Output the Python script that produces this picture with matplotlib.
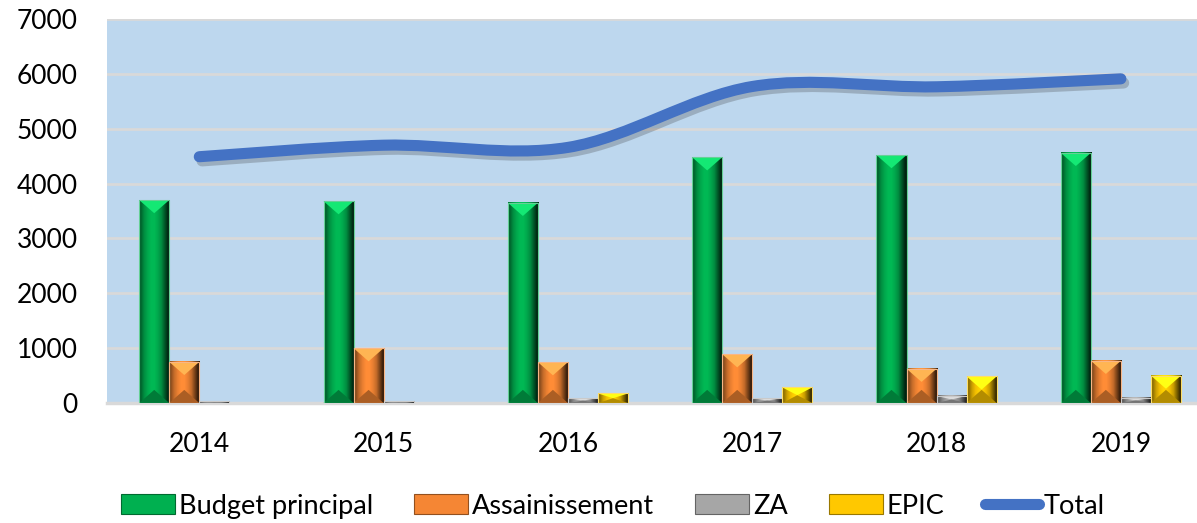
import matplotlib.pyplot as plt
import numpy as np
from matplotlib.path import Path
from matplotlib.patches import PathPatch, Polygon, Patch
from matplotlib.lines import Line2D
import matplotlib.patheffects as pe
from matplotlib.colors import to_rgb

plt.rcParams['font.family'] = ['Lato', 'DejaVu Sans']
plt.rcParams['font.size'] = 19

# data
years = ['2014', '2015', '2016', '2017', '2018', '2019']
budget = [3700, 3680, 3650, 4480, 4520, 4560]
assain = [750, 1000, 745, 890, 625, 770]
za = [30, 30, 90, 90, 130, 95]
epic = [0, 0, 175, 285, 485, 500]
total = [4490, 4700, 4660, 5770, 5765, 5910]

series = [('Budget principal', budget, '#00B050'),
          ('Assainissement', assain, '#F58634'),
          ('ZA', za, '#A6A6A6'),
          ('EPIC', epic, '#FFC800')]

bg = '#BDD7EE'
grid_c = '#D9D9D9'
line_c = '#4472C4'

fig = plt.figure(figsize=(11.97, 5.23), dpi=100)
ax = fig.add_axes([0.0895, 0.2294, 0.9105, 0.7342])
ax.set_facecolor(bg)

x = np.arange(len(years))
w = 0.163
# horizontal shading profile (left -> right) for the bevelled bars
profile = np.array([0.55, 0.8, 0.95, 1.05, 1.05, 0.95, 0.8, 0.5, 0.2])

def lighten(c, f):
    c = np.array(to_rgb(c))
    return tuple(c + (1 - c) * f)

def darken(c, f):
    return tuple(np.array(to_rgb(c)) * f)

def brighten(c, f):
    # brighter but still saturated
    return tuple(np.clip(np.array(to_rgb(c)) * f + 0.08, 0, 1))

handles = []
for k, (name, vals, col) in enumerate(series):
    bars = ax.bar(x + (k - 1.5) * w, vals, w, color=col, zorder=2)
    base = np.array(to_rgb(col))
    grad = np.clip(base[None, :] * profile[:, None], 0, 1)[None, :, :]
    for r in bars:
        h = r.get_height()
        if h <= 0:
            continue
        x0 = r.get_x()
        x1 = x0 + r.get_width()
        xc = (x0 + x1) / 2
        ax.imshow(grad, extent=(x0, x1, 0, h), aspect='auto',
                  interpolation='bilinear', zorder=3)
        d = min(240, h / 2)
        ax.add_patch(Polygon([(x0, h), (x1, h), (xc, h - d)], closed=True,
                             facecolor=brighten(col, 1.2), edgecolor='none', zorder=4))
        ax.add_patch(Polygon([(x0, 0), (x1, 0), (xc, d)], closed=True,
                             facecolor=darken(col, 0.7), edgecolor='none', zorder=4))
        ax.add_patch(Polygon([(x0, 0), (x1, 0), (x1, h), (x0, h)], closed=True,
                             facecolor='none', edgecolor=lighten(col, 0.4),
                             lw=0.8, zorder=5))
    handles.append(Patch(facecolor=col, edgecolor=darken(col, 0.6), lw=0.8, label=name))

# smoothed total line (cubic bezier through the data points)
pts = np.column_stack([x, total]).astype(float)
ext = np.vstack([pts[0], pts, pts[-1]])
verts = [tuple(pts[0])]
codes = [Path.MOVETO]
for i in range(len(pts) - 1):
    p0, p1, p2, p3 = ext[i], ext[i + 1], ext[i + 2], ext[i + 3]
    c1 = p1 + (p2 - p0) / 6
    c2 = p2 - (p3 - p1) / 6
    verts += [tuple(c1), tuple(c2), tuple(p2)]
    codes += [Path.CURVE4] * 3
patch = PathPatch(Path(verts, codes), facecolor='none', edgecolor=line_c,
                  lw=8, capstyle='round', joinstyle='round', zorder=6,
                  path_effects=[pe.SimpleLineShadow(offset=(2, -3), shadow_color='#333333', alpha=0.25),
                                pe.Normal()])
ax.add_patch(patch)
handles.append(Line2D([], [], color=line_c, lw=8, solid_capstyle='round', label='Total'))

ax.set_xlim(-0.5, 5.413)
ax.set_ylim(0, 7000)
ax.set_yticks(range(0, 7001, 1000))
ax.set_xticks(x)
ax.set_xticklabels(years)
ax.tick_params(axis='both', length=0, colors='black', labelsize=19)
ax.tick_params(axis='y', pad=21)
ax.tick_params(axis='x', pad=21)
ax.grid(axis='y', color=grid_c, lw=2, zorder=1)
ax.set_axisbelow(True)
for s in ['top', 'right', 'left']:
    ax.spines[s].set_visible(False)
ax.spines['bottom'].set_color(grid_c)
ax.spines['bottom'].set_linewidth(2.5)

fig.legend(handles=handles, loc='center', bbox_to_anchor=(0.512, 0.0325), ncol=5,
           frameon=False, fontsize=19.5, handlelength=2.0, handleheight=0.75,
           handletextpad=0.15, columnspacing=1.5)

fig.savefig('out.png', dpi=100)
